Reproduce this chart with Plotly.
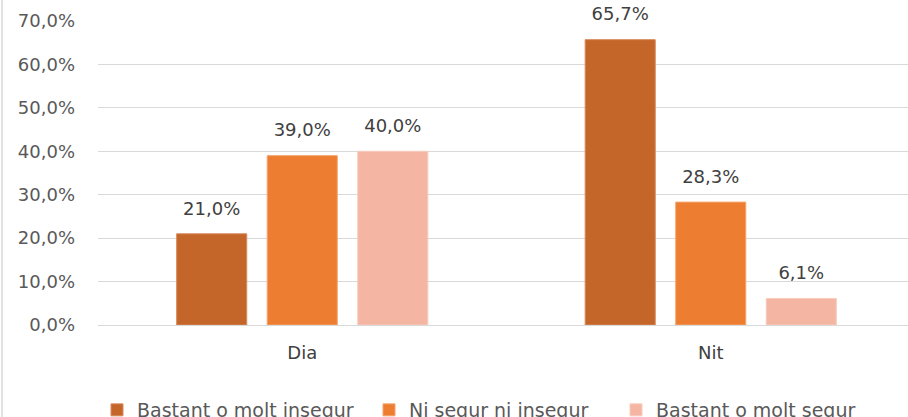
import plotly.graph_objects as go

categories = ["Dia", "Nit"]
series_names = ["Bastant o molt insegur", "Ni segur ni insegur", "Bastant o molt segur"]
insegur = [21.0, 65.7]
ni_ni = [39.0, 28.3]
segur = [40.0, 6.1]
colors = ["#C4652A", "#ED7D31", "#F4B6A2"]
line_colors = ["#D88A5A", "#F5A56E", "#F8CCBD"]
y_ticks = [0, 10, 20, 30, 40, 50, 60, 70]
y_tick_text = [f"{v:.1f}%".replace(".", ",") for v in y_ticks]

FONT = "DejaVu Sans"
FS = 18
legend_ids = ["legend", "legend2", "legend3"]
fig = go.Figure()
for i, (name, vals, c, lc) in enumerate(zip(series_names, [insegur, ni_ni, segur], colors, line_colors)):
    fig.add_trace(go.Bar(
        x=categories, y=vals, name=name, offsetgroup=str(i), legend=legend_ids[i],
        marker=dict(color=c, line=dict(color=lc, width=1)),
    ))
for i, vals in enumerate([insegur, ni_ni, segur]):
    fig.add_trace(go.Scatter(
        x=categories, y=vals, mode="markers+text", offsetgroup=str(i),
        marker=dict(size=22, opacity=0), text=[f"{v:.1f}%".replace(".", ",") for v in vals],
        textposition="top center", textfont=dict(size=FS, color="#404040", family=FONT),
        showlegend=False, hoverinfo="skip", cliponaxis=False,
    ))

W, H = 908, 417
L, R, T, B = 98, 0, 21, 92
plot_w = W - L - R
plot_h = H - T - B
cat_w = 408.5

legend_style = dict(orientation="h", xref="container", xanchor="left", yref="container",
                    y=(H - 410) / H, yanchor="middle", itemwidth=30,
                    font=dict(size=19, color="#595959", family=FONT))
legend_x = [97, 369, 616]

fig.update_layout(
    width=W, height=H,
    margin=dict(l=L, r=R, t=T, b=B, autoexpand=False),
    paper_bgcolor="white", plot_bgcolor="white",
    separators=",.",
    barmode="group", scattermode="group", bargap=0.335, bargroupgap=0.226, scattergap=0.335,
    font=dict(family=FONT, color="#595959", size=FS),
    showlegend=True,
    legend=dict(x=legend_x[0] / W, **legend_style),
    legend2=dict(x=legend_x[1] / W, **legend_style),
    legend3=dict(x=legend_x[2] / W, **legend_style),
    xaxis=dict(range=[-0.5, -0.5 + plot_w / cat_w], showgrid=False, showline=False,
               ticks="", tickfont=dict(size=FS, color="#404040", family=FONT), ticklabelstandoff=15),
    yaxis=dict(range=[0, 70], tickvals=y_ticks, ticktext=y_tick_text,
               showgrid=True, gridcolor="#D9D9D9", gridwidth=1.3, zeroline=True,
               zerolinecolor="#D9D9D9", zerolinewidth=1.3, showline=False,
               tickfont=dict(size=FS, color="#595959", family=FONT), ticklabelstandoff=22),
    shapes=[dict(type="line", xref="paper", yref="paper",
                 x0=(2 - L) / plot_w, x1=(2 - L) / plot_w,
                 y0=-B / plot_h, y1=1 + T / plot_h,
                 line=dict(color="#D9D9D9", width=1.5))],
)
fig.write_html("out.html", config={"displayModeBar": False},
               post_script="document.body.style.margin='0px';")
